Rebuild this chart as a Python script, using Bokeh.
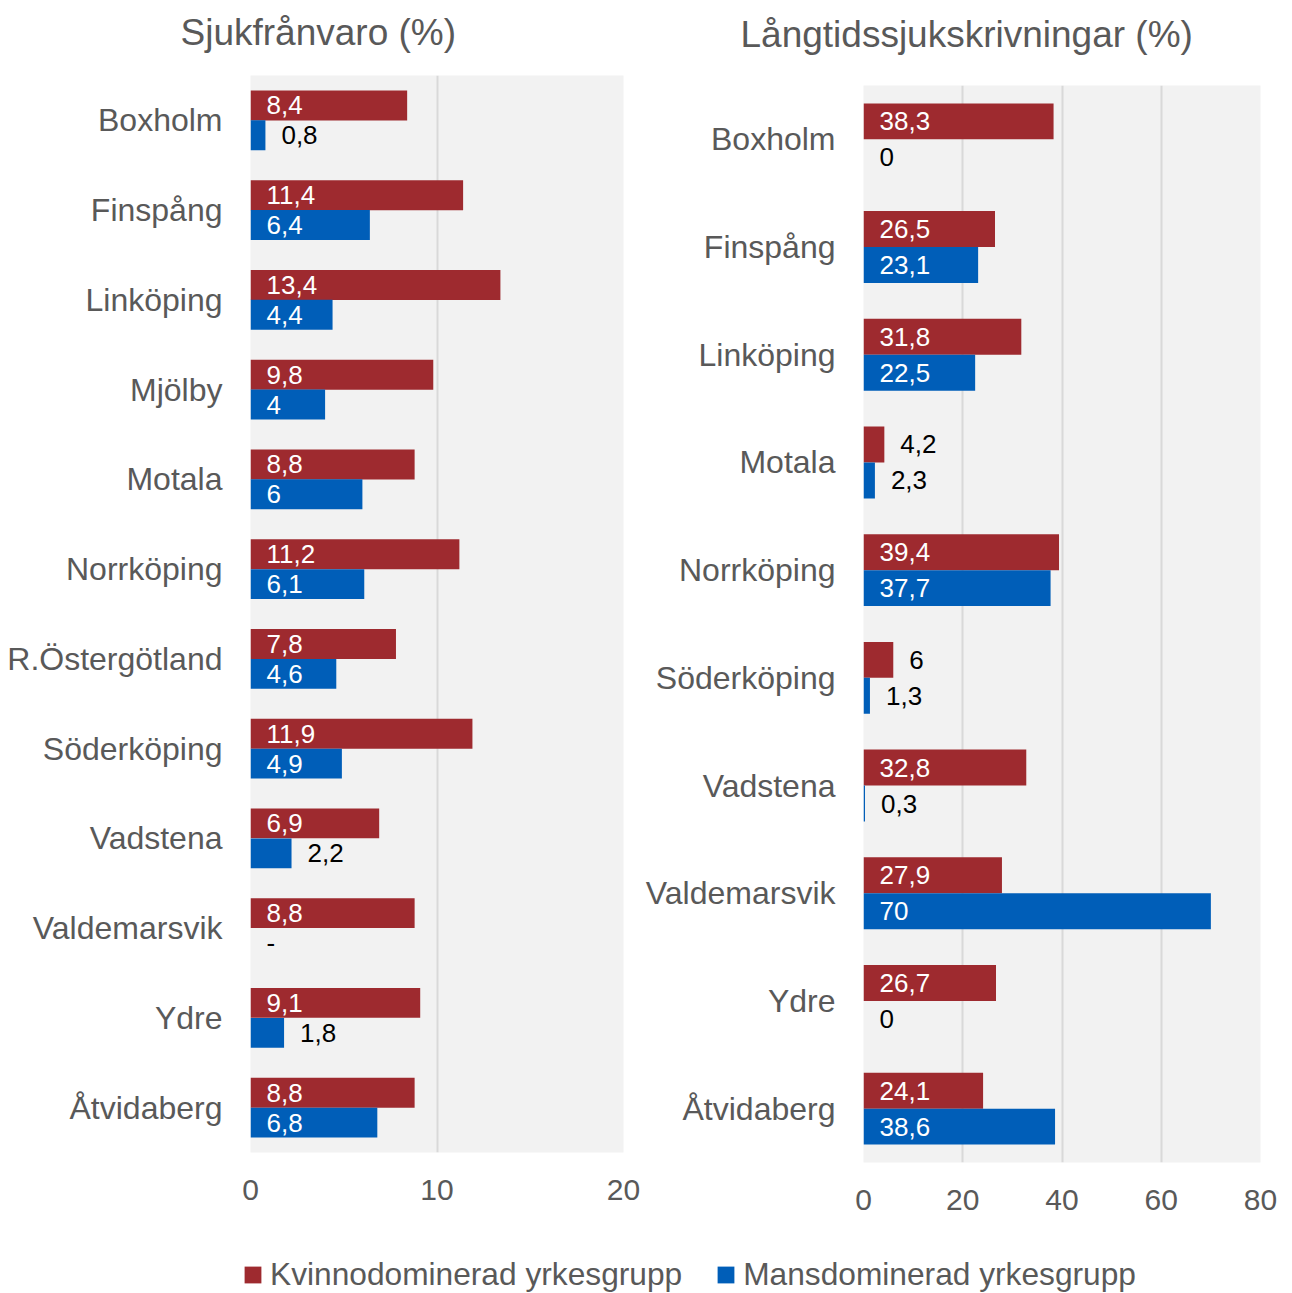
from bokeh.plotting import figure
from bokeh.models import (ColumnDataSource, FactorRange, Range1d, Legend,
                          LegendItem, FixedTicker, Spacer, Title)
from bokeh.layouts import column, row
from bokeh.transform import dodge
from bokeh.core.properties import value
from bokeh.embed import file_html
from bokeh.resources import INLINE

FONT = "Liberation Sans"
RED = "#9e2a2f"
BLUE = "#005eb8"
TXT = "#595959"

# ---- data ----
left_title = "Sjukfrånvaro (%)"
left_cats = ["Boxholm", "Finspång", "Linköping", "Mjölby", "Motala", "Norrköping",
             "R.Östergötland", "Söderköping", "Vadstena", "Valdemarsvik", "Ydre", "Åtvidaberg"]
left_kvinno = [8.4, 11.4, 13.4, 9.8, 8.8, 11.2, 7.8, 11.9, 6.9, 8.8, 9.1, 8.8]
left_mans = [0.8, 6.4, 4.4, 4.0, 6.0, 6.1, 4.6, 4.9, 2.2, None, 1.8, 6.8]
left_ticks = [0, 10, 20]

right_title = "Långtidssjukskrivningar (%)"
right_cats = ["Boxholm", "Finspång", "Linköping", "Motala", "Norrköping",
              "Söderköping", "Vadstena", "Valdemarsvik", "Ydre", "Åtvidaberg"]
right_kvinno = [38.3, 26.5, 31.8, 4.2, 39.4, 6.0, 32.8, 27.9, 26.7, 24.1]
right_mans = [0.0, 23.1, 22.5, 2.3, 37.7, 1.3, 0.3, 70.0, 0.0, 38.6]
right_ticks = [0, 20, 40, 60, 80]

series_names = ["Kvinnodominerad yrkesgrupp", "Mansdominerad yrkesgrupp"]


def fmt(v):
    if v is None:
        return "-"
    return f"{v:g}".replace(".", ",")


def series_source(cats, vals, thr):
    right, lx, txt, col = [], [], [], []
    for v in vals:
        if v is None:
            right.append(float("nan"))
            lx.append(0.0)
            col.append("black")
        else:
            right.append(v)
            inside = v >= thr
            lx.append(0.0 if inside else v)
            col.append("white" if inside else "black")
        txt.append(fmt(v))
    return ColumnDataSource(dict(cat=cats, right=right, lx=lx, txt=txt, col=col))


def panel(title, cats, kv, ma, xmax, ticks, width, height, bl, br, bt, bb,
          thr, title_offset, gap):
    p = figure(width=width, height=height,
               y_range=FactorRange(factors=list(reversed(cats))),
               x_range=Range1d(0, xmax),
               output_backend="svg", toolbar_location=None,
               min_border_left=bl, min_border_right=br,
               min_border_top=bt, min_border_bottom=bb)
    p.background_fill_color = "#f2f2f2"
    p.border_fill_color = "white"
    p.outline_line_color = None

    p.title.text = title
    p.title.text_font = FONT
    p.title.text_font_size = "37px"
    p.title.text_font_style = "normal"
    p.title.text_color = TXT
    p.title.align = "left"
    p.title.offset = title_offset
    p.title.standoff = 0
    # blank spacer panel between title and plot area
    p.add_layout(Title(text=" ", text_font_size="1px", standoff=gap), "above")

    off = 0.167
    h = 0.334
    for vals, color, sign in ((kv, RED, 1), (ma, BLUE, -1)):
        src = series_source(cats, vals, thr)
        p.hbar(y=dodge("cat", sign * off, range=p.y_range), left=0, right="right",
               height=h, source=src, fill_color=color, line_color=None)
        p.text(x="lx", y=dodge("cat", sign * off, range=p.y_range), text="txt",
               source=src, x_offset=16, text_color="col",
               text_font=value(FONT), text_font_size="26px",
               text_baseline="middle", text_align="left")

    p.ygrid.visible = False
    p.xgrid.ticker = FixedTicker(ticks=ticks)
    p.xgrid.grid_line_color = "#d9d9d9"
    p.xgrid.grid_line_width = 2

    p.xaxis.ticker = FixedTicker(ticks=ticks)
    for ax in (p.xaxis[0], p.yaxis[0]):
        ax.axis_line_color = None
        ax.major_tick_line_color = None
        ax.minor_tick_line_color = None
        ax.major_tick_out = 0
        ax.major_tick_in = 0
        ax.major_label_text_color = TXT
        ax.major_label_text_font = FONT
    p.xaxis.major_label_text_font_size = "30px"
    p.xaxis.major_label_standoff = 27
    p.yaxis.major_label_text_font_size = "32px"
    p.yaxis.major_label_standoff = 28
    return p


p1 = panel(left_title, left_cats, left_kvinno, left_mans, 20, left_ticks,
           640, 1240, 250, 17, 75, 88, 3.0, -70, 20)
p2 = panel(right_title, right_cats, right_kvinno, right_mans, 80, right_ticks,
           652, 1230, 223, 32, 75, 78, 10.0, -123, 28)

leg = figure(width=1292, height=53, output_backend="svg", toolbar_location=None,
             x_axis_location=None, y_axis_location=None,
             min_border_left=242, min_border_top=16, min_border_right=0,
             min_border_bottom=0,
             x_range=Range1d(0, 1), y_range=Range1d(0, 1))
leg.outline_line_color = None
leg.grid.visible = False
leg.background_fill_color = "white"
r1 = leg.hbar(y=[-5], right=[-5], height=0.5, fill_color=RED, line_color=None)
r2 = leg.hbar(y=[-5], right=[-5], height=0.5, fill_color=BLUE, line_color=None)
legend = Legend(items=[LegendItem(label=series_names[0], renderers=[r1]),
                       LegendItem(label=series_names[1], renderers=[r2])],
                location="top_left", orientation="horizontal",
                glyph_width=21, glyph_height=21, label_standoff=7, spacing=33,
                padding=0, margin=0, border_line_color=None,
                background_fill_alpha=0,
                label_text_font=FONT, label_text_font_size="31.7px",
                label_text_color=TXT)
leg.add_layout(legend)

layout = column(row(p1, column(Spacer(height=10, width=652), p2)), leg)
open("out.html", "w").write(file_html(layout, INLINE))
